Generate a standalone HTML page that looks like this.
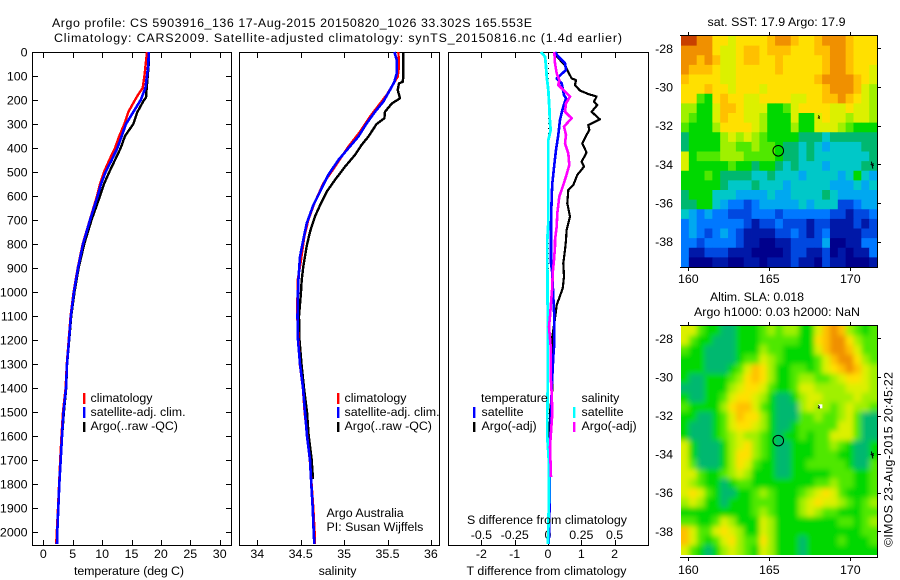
<!DOCTYPE html>
<html>
<head>
<meta charset="utf-8">
<title>Argo profile</title>
<style>
html,body{margin:0;padding:0;background:#fff;}
svg{display:block;}
text{font-family:"Liberation Sans",sans-serif;font-size:12.4px;fill:#000;}
</style>
</head>
<body>
<svg id="fig" xmlns="http://www.w3.org/2000/svg" width="900" height="580" viewBox="0 0 900 580">
<defs>
<clipPath id="clip-sst"><rect x="681" y="36" width="196" height="231"/></clipPath>
<clipPath id="clip-sla"><rect x="681" y="326" width="196" height="229"/></clipPath>
<filter id="smooth" x="-10%" y="-10%" width="120%" height="120%"><feGaussianBlur stdDeviation="2.6"/></filter>
</defs>
<text x="52" y="27" textLength="480" font-size="13">Argo profile: CS 5903916_136 17-Aug-2015 20150820_1026 33.302S 165.553E</text>
<text x="54" y="42" textLength="568">Climatology: CARS2009. Satellite-adjusted climatology: synTS_20150816.nc (1.4d earlier)</text>
<g id="maps"></g>
<g id="panels"></g>

<text x="129" y="575" text-anchor="middle" textLength="110">temperature (deg C)</text>
<text x="337.5" y="575" text-anchor="middle">salinity</text>
<text x="546.5" y="575" text-anchor="middle" textLength="160">T difference from climatology</text>
<text x="547" y="524" text-anchor="middle" textLength="160">S difference from climatology</text>

<g>
<rect x="83" y="393" width="2.4" height="11" fill="#f00"/>
<rect x="83" y="407" width="2.4" height="11" fill="#00f"/>
<rect x="83" y="422" width="2.4" height="10" fill="#000"/>
<text x="90.5" y="402">climatology</text>
<text x="90.5" y="416">satellite-adj. clim.</text>
<text x="90.5" y="430">Argo(..raw -QC)</text>
</g>
<g>
<rect x="337" y="393" width="2.4" height="11" fill="#f00"/>
<rect x="337" y="407" width="2.4" height="11" fill="#00f"/>
<rect x="337" y="422" width="2.4" height="10" fill="#000"/>
<text x="344.5" y="402">climatology</text>
<text x="344.5" y="416">satellite-adj. clim.</text>
<text x="344.5" y="430">Argo(..raw -QC)</text>
<text x="326.5" y="517">Argo Australia</text>
<text x="326.5" y="531">PI: Susan Wijffels</text>
</g>
<g>
<text x="481" y="402">temperature</text>
<text x="581.5" y="402">salinity</text>
<rect x="473" y="407" width="2.4" height="11" fill="#00f"/>
<rect x="473" y="422" width="2.4" height="10" fill="#000"/>
<rect x="573" y="407" width="2.4" height="11" fill="#0ff"/>
<rect x="573" y="422" width="2.4" height="10" fill="#f0f"/>
<text x="481.5" y="416">satellite</text>
<text x="481.5" y="430">Argo(-adj)</text>
<text x="581.5" y="416">satellite</text>
<text x="581.5" y="430">Argo(-adj)</text>
</g>

<text x="707.5" y="26" textLength="138">sat. SST: 17.9 Argo: 17.9</text>
<text x="710" y="301" textLength="94">Altim. SLA: 0.018</text>
<text x="694" y="316" textLength="166">Argo h1000: 0.03 h2000: NaN</text>
<text transform="translate(892.5,547) rotate(-90)" textLength="175">©IMOS 23-Aug-2015 20:45:22</text>
</svg>
<script>
// ---------- profile data ----------
var depthTicks = [0,100,200,300,400,500,600,700,800,900,1000,1100,1200,1300,1400,1500,1600,1700,1800,1900,2000];
var tempTicks = [0,5,10,15,20,25,30];
var salTicks = [34,34.5,35,35.5,36];
var salTickLabels = ['34','34.5','35','35.5','36'];
var tDiffTicks = [-2,-1,0,1,2];
var sDiffTicks = [-0.5,-0.25,0,0.25,0.5];
var sDiffTickLabels = ['-0.5','-0.25','0','0.25','0.5'];

var climTempDepth = [0,50,100,150,175,200,250,300,350,400,450,500,550,600,700,800,900,1000,1100,1200,1300,1400,1500,1600,1700,1800,1900,2000,2050];
var climTemp = [17.64,17.41,17.19,16.9,16.2,15.6,14.46,13.78,12.93,12.2,11.23,10.32,9.64,9.13,7.9,6.7,5.85,5.15,4.65,4.32,4,3.8,3.35,3.1,2.88,2.68,2.5,2.3,2.2];
var satTempDepth = [0,50,100,150,200,250,300,350,400,450,500,550,600,700,800,900,1000,1100,1200,1300,1400,1500,1600,1700,1800,1900,2000,2050];
var satTemp = [17.92,17.87,17.64,17.36,16.56,15.3,14.07,13.33,12.6,11.63,10.6,9.81,9.25,7.94,6.75,5.9,5.2,4.7,4.37,4.03,3.86,3.43,3.18,2.96,2.72,2.55,2.38,2.33];
var argoTempDepth = [0,50,100,150,190,200,250,300,350,400,450,500,550,600,700,800,900,1000,1100,1200,1300,1400,1500,1600,1700,1800,1830];
var argoTemp = [17.81,17.92,17.75,17.58,17.47,17.13,16,15.3,13.9,13.16,12.2,11.23,10.32,9.64,8.2,6.95,6,5.3,4.75,4.4,4.05,3.9,3.5,3.2,2.95,2.7,2.6];

var climSalDepth = [0,61,103,179,269,332,394,478,547,631,700,769,867,950,1100,1300,1400,1500,1700,1800,1900,2000,2050];
var climSal = [35.625,35.632,35.617,35.49,35.298,35.183,35.049,34.895,34.761,34.657,34.588,34.542,34.503,34.465,34.46,34.49,34.525,34.545,34.605,34.625,34.645,34.66,34.665];
var satSalDepth = [0,33,89,124,158,207,249,297,353,401,450,512,582,637,714,783,853,950,1000,1100,1200,1300,1400,1500,1600,1700,1800,1900,2000,2050];
var satSal = [35.579,35.606,35.606,35.579,35.529,35.452,35.356,35.26,35.164,35.049,34.934,34.818,34.722,34.646,34.569,34.53,34.492,34.473,34.469,34.463,34.469,34.492,34.526,34.55,34.573,34.607,34.622,34.638,34.65,34.657];
var argoSalDepth = [0,103,124,131,158,193,215,249,276,300,353,387,429,478,533,582,631,686,749,811,894,950,1000,1100,1200,1300,1400,1500,1600,1700,1780];
var argoSal = [35.682,35.682,35.675,35.632,35.617,35.644,35.548,35.471,35.464,35.375,35.279,35.202,35.125,35.01,34.895,34.799,34.733,34.664,34.607,34.568,34.53,34.511,34.503,34.48,34.486,34.509,34.538,34.573,34.592,34.627,34.642];

var tArgoDepth = [0,19,54,75,110,117,138,161,175,186,207,221,249,281,304,325,353,381,419,457,478,512,554,575,631,686,742,783,825,880,936,985,1054,1110,1186,1256,1408,1500,1780];
var tArgoDiff = [0.21,0.26,0.51,0.58,0.71,0.84,0.81,0.96,1.21,1.46,1.38,1.48,1.31,1.56,1.21,1.24,1.13,1.03,1.16,1.01,1.08,0.88,0.76,0.61,0.58,0.66,0.56,0.54,0.51,0.46,0.48,0.44,0.26,0.21,0.13,0.13,0.13,0.06,0.03];
var tSatDepth = [0,19,47,75,110,131,179,193,236,283,346,408,471,547,603,714,783,881,922,1019,1103,1214,1270,1353,1408,1671,1992,2050];
var tSatDiff = [0.21,0.31,0.51,0.54,0.26,0.41,0.48,0.54,0.44,0.36,0.31,0.24,0.19,0.13,0.11,0.09,0.09,0.09,0.13,0.16,0.19,0.19,0.16,0.13,0.11,0.06,0.04,0.02];
var sSatDepth = [0,19,61,103,158,228,297,325,367,436,575,714,783,881,1075,1242,1408,1506,1603,1714,1853,1992,2050];
var sSatDiff = [-0.0525,-0.0225,-0.015,-0.01,0.0025,0.01,0.015,0.02,0.0025,0.0025,0.0025,0.0025,-0.005,-0.005,-0.0025,-0.0025,-0.0025,-0.005,-0.005,0.0075,0.0075,0.0025,0];
var sArgoDepth = [0,47,89,117,138,158,186,214,249,276,311,346,381,422,471,519,561,603,672,728,783,811,867,922,978,1047,1103,1145,1228,1353,1422,1506,1645,1770];
var sArgoDiff = [0.0475,0.0525,0.065,0.085,0.0775,0.115,0.165,0.135,0.1275,0.1775,0.12,0.135,0.1275,0.1525,0.16,0.135,0.11,0.085,0.07,0.065,0.0525,0.0525,0.045,0.035,0.0325,0.0225,0.015,0.0075,0.02,0.02,0.0275,0.0325,0.015,0.0225];

// ---------- map data ----------
var lonTicks = [160,165,170];
var latTicks = [-28,-30,-32,-34,-36,-38];
var levelColors = ['#00008c','#0018a8','#0048e0','#0078ff','#00a8f0','#00c8c8','#00b870','#00d800','#50e800','#a0f000','#dcf000','#ffe000','#ffc000','#f09000','#c84000'];
var sstGrid = [
'eeddbbabbbbcddcbbcdddcbbb',
'ddddbaabccbcccbbbccddcbbb',
'ddcdcaabccbbcbbbbbcddcbbb',
'dcccbaabbbbbcbbbbbcddcbba',
'cbbbbaabbbbbbbbbbcddddcba',
'bbbcbbabbbabbbbbbbcdddca9',
'bb87bcbbaabbbbaabbccdcba9',
'9977accbaaa778abbbbaabaa9',
'9877acbbaa9777a77abaa9aa9',
'87779bbbba9777977aaa98777',
'6777' + '79a9a98777766656' + '66666',
'6777799889887665654555566',
'a788899988887665655555556',
'a777778776776565554555566',
'7778766665565554555545754',
'7777765556555455555444545',
'6777555444454455556544444',
'6677543323444445455522344',
'5434332223332333333221223',
'3433333321223222122111212',
'3432343211112232123111122',
'3323333211001122224001133',
'3112221110000122112010113',
'3000110011011121102110001'];
var slaGrid = [
'aa877667778989977acdc9878',
'a877666777888887' + '7bcddb988',
'8776666777988777' + '7acddca88',
'777666678' + '8a987777' + '8acddb98',
'77766678acb9778878abcdca9',
'76677789bcb9778998' + '89abba9',
'6667779abba8778aa9999aaa9',
'766778abba9766' + '79aa9999a99',
'877779bcca87666' + '9a9989a998',
'776678acbb97666889889a866',
'766678abba97667888' + '88aa866',
'76667' + '89a99' + '87677' + '8788a' + 'aa866',
'a7666' + '79ab9' + '87667' + '77889' + '87667',
'a7666' + '79bb9' + '87667' + '77888' + '77667',
'a8666' + '79ba8' + '77667' + '78888' + '87668',
'aa877' + '89a97' + '77667' + '77778' + '88778',
'a9877' + '67887' + '77777' + '77889' + '88778',
'aba87' + '66778' + '98777' + '89aba' + '87778',
'9a977' + '67778' + '88777' + '9abaa' + '98789',
'77777' + '77778' + '98777' + '9a988' + '77788',
'88778' + 'a9777' + 'a9777' + '77777' + '88789',
'ca88a' + 'ba977' + 'a9777' + '77777' + '77788',
'ca878' + 'ab988' + 'b9777' + '67777' + '87778',
'a8767' + '9a987' + 'a9777' + '67777' + '77777'];

var NS = 'http://www.w3.org/2000/svg';

function make(tag, attrs, parent){
  var el = document.createElementNS(NS, tag);
  for (var k in attrs) el.setAttribute(k, attrs[k]);
  parent.appendChild(el);
  return el;
}

var panelsG = document.getElementById('panels');
var mapsG = document.getElementById('maps');

// ---------- scales ----------
function yDepth(d){ return 52 + 0.24 * d; }
function xTemp(t){ return 43.3 + 5.88 * t; }
function xSal(s){ return 257.3 + 86.8 * (s - 34); }
function xTDiff(v){ return 548 + 33.3 * v; }
function xSDiff(v){ return 548 + 133.2 * v; }
function xLon(lon){ return 688.3 + 16.2 * (lon - 160); }
function ySst(lat){ return 48.3 + 19.33 * (-28 - lat); }
function ySla(lat){ return 338.3 + 19.3 * (-28 - lat); }

function drawFrame(x0, x1, name){
  var r = make('rect', {x:x0+0.5, y:52.5, width:x1-x0, height:493, fill:'none', stroke:'#000', 'stroke-width':1, 'shape-rendering':'crispEdges'}, panelsG);
  
  
}
function drawXTick(px, name){
  var a = make('path', {d:'M'+(Math.round(px)+0.5)+' 53V58M'+(Math.round(px)+0.5)+' 545V540', stroke:'#000', 'stroke-width':1, fill:'none', 'shape-rendering':'crispEdges'}, panelsG);
  
  
}
function drawLabel(px, py, txt, anchor, name, parent){
  var t = make('text', {x:px, y:py, 'text-anchor':anchor}, parent || panelsG);
  t.textContent = txt;
  
  
}
function drawProfile(depths, values, xf, color, width, name){
  var pts = [];
  for (var i = 0; i < depths.length; i++) pts.push(xf(values[i]).toFixed(1) + ',' + yDepth(depths[i]).toFixed(1));
  var p = make('polyline', {points:pts.join(' '), fill:'none', stroke:color, 'stroke-width':width, 'shape-rendering':'crispEdges', 'stroke-linejoin':'round'}, panelsG);
  
  
}

// ---------- panel 1: temperature ----------
drawFrame(32, 231, 'temperature-plot-frame');
tempTicks.forEach(function(t){
  drawXTick(xTemp(t), 'temperature-x-tick');
  drawLabel(xTemp(t), 558, String(t), 'middle', 'temperature-tick-label');
});
depthTicks.forEach(function(d){
  var y = Math.round(yDepth(d)) + 0.5;
  var tk = make('path', {d:'M33 '+y+'H38M231 '+y+'H226', stroke:'#000', 'stroke-width':1, fill:'none', 'shape-rendering':'crispEdges'}, panelsG);
  
  
  drawLabel(27.5, yDepth(d) + 4.5, String(d), 'end', 'depth-tick-label');
});
drawProfile(argoTempDepth, argoTemp, xTemp, '#000', 2.4, 'argo-temperature-line');
drawProfile(climTempDepth, climTemp, xTemp, '#f00', 2.4, 'climatology-temperature-line');
drawProfile(satTempDepth, satTemp, xTemp, '#00f', 2.6, 'satellite-temperature-line');

// ---------- panel 2: salinity ----------
drawFrame(239, 439, 'salinity-plot-frame');
salTicks.forEach(function(s, i){
  drawXTick(xSal(s), 'salinity-x-tick');
  drawLabel(xSal(s), 558, salTickLabels[i], 'middle', 'salinity-tick-label');
});
drawProfile(argoSalDepth, argoSal, xSal, '#000', 2.4, 'argo-salinity-line');
drawProfile(climSalDepth, climSal, xSal, '#f00', 2.4, 'climatology-salinity-line');
drawProfile(satSalDepth, satSal, xSal, '#00f', 2.6, 'satellite-salinity-line');

// ---------- panel 3: differences ----------
drawFrame(448, 648, 'difference-plot-frame');
var zeroLine = make('line', {x1:548.5, y1:53, x2:548.5, y2:545, stroke:'#000', 'stroke-width':1, 'stroke-dasharray':'1 4', 'shape-rendering':'crispEdges'}, panelsG);


tDiffTicks.forEach(function(v){
  drawXTick(xTDiff(v), 't-difference-tick');
  drawLabel(xTDiff(v), 558, String(v), 'middle', 't-difference-tick-label');
});
sDiffTicks.forEach(function(v, i){
  drawLabel(xSDiff(v), 539, sDiffTickLabels[i], 'middle', 's-difference-tick-label');
});
drawProfile(tArgoDepth, tArgoDiff, xTDiff, '#000', 2.2, 'argo-t-difference-line');
drawProfile(tSatDepth, tSatDiff, xTDiff, '#00f', 2.6, 'satellite-t-difference-line');
drawProfile(sSatDepth, sSatDiff, xSDiff, '#0ff', 2.8, 'satellite-s-difference-line');
drawProfile(sArgoDepth, sArgoDiff, xSDiff, '#f0f', 2.6, 'argo-s-difference-line');

// ---------- maps ----------
function drawHeatmap(grid, top, bottom, smooth, clipId, name){
  var g = make('g', {'clip-path':'url(#' + clipId + ')'}, mapsG);
  
  
  var inner = make('g', smooth ? {filter:'url(#smooth)'} : {}, g);
  var rows = grid.length;
  var left = 681, right = 877;
  var cols = 25;
  var cw = (right - left) / cols;
  var ch = (bottom - top) / rows;
  grid.forEach(function(row, r){
    for (var c = 0; c < cols; c++){
      var ch0 = row.charAt(Math.min(c, row.length - 1));
      var level = parseInt(ch0, 16);
      var x0 = left + c * cw, w = cw + 0.4, y0 = top + r * ch, h = ch + 0.4;
      if (smooth){
        if (c === 0){ x0 -= 12; w += 12; }
        if (c === cols - 1){ w += 12; }
        if (r === 0){ y0 -= 12; h += 12; }
        if (r === rows - 1){ h += 12; }
      }
      var cell = make('rect', {x:x0.toFixed(2), y:y0.toFixed(2), width:w.toFixed(2), height:h.toFixed(2), fill:levelColors[level]}, inner);
      
      
    }
  });
}
function drawMapAxes(top, bottom, yf, labelY, name){
  var box = make('path', {d:'M680 '+(top+0.5)+'H877.5V'+(bottom+0.5)+'H680', fill:'none', stroke:'#000', 'stroke-width':1, 'shape-rendering':'crispEdges'}, mapsG);
  
  
  lonTicks.forEach(function(lon){
    var px = Math.round(xLon(lon)) + 0.5;
    var t = make('path', {d:'M'+px+' '+top+'V'+(top-3)+'M'+px+' '+(bottom+1)+'V'+(bottom+4), stroke:'#000', 'stroke-width':1, fill:'none', 'shape-rendering':'crispEdges'}, mapsG);
    
    
    drawLabel(xLon(lon), labelY, String(lon), 'middle', 'longitude-tick-label', mapsG);
  });
  latTicks.forEach(function(lat){
    var py = Math.round(yf(lat)) + 0.5;
    var t = make('path', {d:'M878 '+py+'H881', stroke:'#000', 'stroke-width':1, fill:'none', 'shape-rendering':'crispEdges'}, mapsG);
    
    
    drawLabel(673, yf(lat) + 4.5, String(lat), 'end', 'latitude-tick-label', mapsG);
  });
}
function drawMarker(yf, name){
  var c = make('circle', {cx:xLon(165.553), cy:yf(-33.302), r:5.3, fill:'none', stroke:'#000', 'stroke-width':1}, mapsG);
  
  
}
function drawIslands(yf, white){
  var lhx = xLon(168.03), lhy = yf(-31.55);
  if (white){
    var w = make('rect', {x:lhx, y:lhy-2.5, width:4, height:4, fill:'#fff'}, mapsG);
    
    
  }
  var lh = make('path', {d:'M'+lhx+' '+(lhy-1.5)+'l1 1.5l-1 1l1.5 0.5', fill:'none', stroke:'#000', 'stroke-width':1}, mapsG);
  
  
  var nx = xLon(171.3), ny = yf(-34.02);
  var nf = make('path', {d:'M'+(nx+2.5)+' '+(ny-1)+'L'+nx+' '+ny+'L'+(nx+2.5)+' '+(ny+1)+'M'+(nx)+' '+(ny-3)+'L'+(nx+1.5)+' '+(ny+4), fill:'none', stroke:'#000', 'stroke-width':1}, mapsG);
  
  
}

drawHeatmap(sstGrid, 36, 267, false, 'clip-sst', 'sst-heatmap');
drawMapAxes(35, 267, ySst, 283, 'sst-map-frame');
drawMarker(ySst, 'sst-argo-position-marker');
drawIslands(ySst, false);

drawHeatmap(slaGrid, 326, 555, true, 'clip-sla', 'sla-heatmap');
drawMapAxes(325, 557, ySla, 574, 'sla-map-frame');
drawMarker(ySla, 'sla-argo-position-marker');
drawIslands(ySla, true);
</script>
</body>
</html>
